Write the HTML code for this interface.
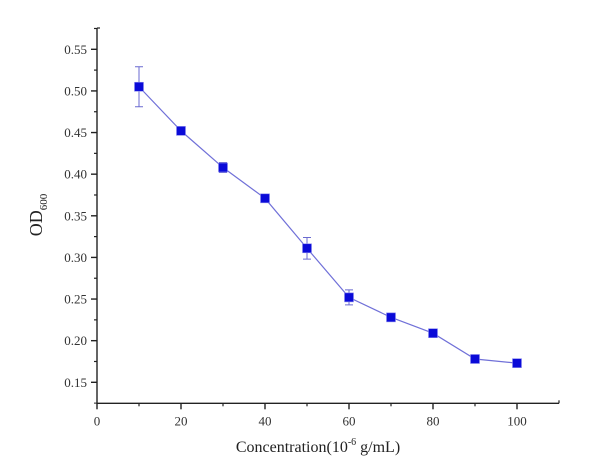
<!DOCTYPE html>
<html><head><meta charset="utf-8"><style>
body{margin:0;background:#fff;}
svg{font-family:"Liberation Serif",serif;}
</style></head><body>
<svg width="600" height="465">
<g id="axes"></g>
<g id="marks"></g>
<text x="318" y="452" font-size="16" text-anchor="middle" fill="#222">Concentration(10<tspan dy="-7" font-size="10">-6</tspan><tspan dy="7"> g/mL)</tspan></text>
<text transform="translate(42,215) rotate(-90)" font-size="18" text-anchor="middle" fill="#222">OD<tspan dy="5" font-size="11">600</tspan></text>
</svg>
<script>
const xValues=[10,20,30,40,50,60,70,80,90,100];
const yValues=[0.505,0.452,0.408,0.371,0.311,0.252,0.228,0.209,0.178,0.173];
const yErrors=[0.024,0.002,0.006,0.002,0.013,0.009,0.005,0.005,0.002,0.002];
const xTicks=[0,20,40,60,80,100];
const yTicks=[0.15,0.20,0.25,0.30,0.35,0.40,0.45,0.50,0.55];
const X0=97,X1=517,Y0=382.3,Y1=49.3,AXB=403.3,AXT=28,AXR=559;
const sx=v=>X0+(v-0)*(X1-X0)/100;
const sy=v=>Y0+(v-0.15)*(Y1-Y0)/0.40;
const NS="http://www.w3.org/2000/svg";
function mk(p,t,a){const e=document.createElementNS(NS,t);for(const k in a)e.setAttribute(k,a[k]);p.appendChild(e);return e;}
const ax=document.getElementById('axes'),mg=document.getElementById('marks');
let e=mk(ax,'line',{x1:X0,y1:AXT,x2:X0,y2:AXB,stroke:'#222','stroke-width':1.4});


e=mk(ax,'line',{x1:X0,y1:AXB,x2:AXR,y2:AXB,stroke:'#222','stroke-width':1.4});


mk(ax,'line',{x1:AXR,y1:AXB,x2:AXR,y2:AXB-3,stroke:'#222','stroke-width':1.2});
mk(ax,'line',{x1:X0,y1:AXT,x2:X0+3,y2:AXT,stroke:'#222','stroke-width':1.2});
xTicks.forEach(v=>{const x=sx(v);
 mk(ax,'line',{x1:x,y1:AXB,x2:x,y2:AXB+6,stroke:'#222','stroke-width':1.4});
 if(sx(v+10)<AXR) mk(ax,'line',{x1:sx(v+10),y1:AXB,x2:sx(v+10),y2:AXB+3,stroke:'#222','stroke-width':1.2});
 const t=mk(ax,'text',{x:x,y:AXB+22,'font-size':13,'text-anchor':'middle',fill:'#333'});t.textContent=v;
 
 
});
yTicks.forEach(v=>{const y=sy(v);
 mk(ax,'line',{x1:X0-6,y1:y,x2:X0,y2:y,stroke:'#222','stroke-width':1.4});
 mk(ax,'line',{x1:X0-3,y1:sy(v+0.025),x2:X0,y2:sy(v+0.025),stroke:'#222','stroke-width':1.2});
 const t=mk(ax,'text',{x:X0-10,y:y+4.5,'font-size':13,'text-anchor':'end',fill:'#333'});t.textContent=v.toFixed(2);
 
 
});
mk(ax,'line',{x1:X0-3,y1:sy(0.125),x2:X0,y2:sy(0.125),stroke:'#222'});
let pts=xValues.map((x,i)=>sx(x)+','+sy(yValues[i])).join(' ');
e=mk(mg,'polyline',{points:pts,fill:'none',stroke:'#7070d8','stroke-width':1.2});


xValues.forEach((xv,i)=>{const x=sx(xv),y=sy(yValues[i]),d=yErrors[i];
 if(d>0.003){const a=sy(yValues[i]+d),b=sy(yValues[i]-d);
  const g=mk(mg,'path',{d:`M${x},${a}V${b}M${x-4},${a}H${x+4}M${x-4},${b}H${x+4}`,stroke:'#6a6ad0','stroke-width':1,fill:'none'});
  
  }
 const r=mk(mg,'rect',{x:x-4.5,y:y-4.5,width:9,height:9,fill:'#0a0ad8',stroke:'#8888ee','stroke-width':0.6});
 
 
});
</script>
</body></html>
